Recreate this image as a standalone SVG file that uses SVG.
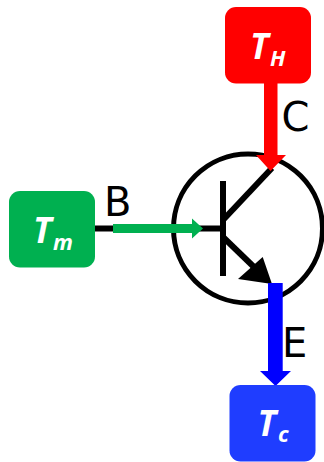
<svg xmlns="http://www.w3.org/2000/svg" width="324" height="462" viewBox="0 0 324 462">
<style>
.n{font-family:"Open Sans","DejaVu Sans",sans-serif;font-weight:700;font-style:italic;fill:#fff}
.b{font-size:35px}.s{font-size:22px}
.l{font-family:"DejaVu Sans",sans-serif;font-size:40px;fill:#000}
.k{stroke:#000;fill:none}
</style>
<rect width="324" height="462" fill="#fff"/>
<g id="connectors">
<circle class="k" cx="248" cy="228.5" r="74.5" stroke-width="5"/>
<path class="k" d="M95 228.500H223" stroke-width="6"/>
<path class="k" d="M223 181V276" stroke-width="6"/>
<path class="k" d="M224 219L272 168" stroke-width="6"/>
<path class="k" d="M224 238L255 268" stroke-width="6"/>
<polygon points="262.700,257 272,284 238,279" fill="#000"/>
<polygon points="113,224 192,224 192,218.500 203,228.500 192,238.500 192,233 113,233" fill="#00b050"/>
<polygon points="264,83 277.500,83 277.500,155 286,155 270.500,171 256,155 264,155" fill="#f00"/>
<polygon points="268,283 282.700,283 282.700,371 291,371 275.500,386 260,371 268,371" fill="#00f"/>
</g>
<g id="TH"><rect x="225" y="7" width="86" height="76.500" rx="11" fill="#f00"/><text class="n b" x="250" y="59">T</text><text class="n s" x="270" y="66">H</text></g>
<g id="Tm"><rect x="9" y="191" width="86" height="76.500" rx="11" fill="#00b050"/><text class="n b" x="33" y="243">T</text><text class="n s" x="53" y="250">m</text></g>
<g id="Tc"><rect x="229.500" y="385" width="86" height="76.500" rx="11" fill="#1f3dff"/><text class="n b" x="257.500" y="436">T</text><text class="n s" x="278" y="442">c</text></g>
<g id="labels">
<text class="l" x="281.500" y="131">C</text>
<text class="l" x="104" y="216">B</text>
<text class="l" x="282" y="357">E</text>
</g>
</svg>
